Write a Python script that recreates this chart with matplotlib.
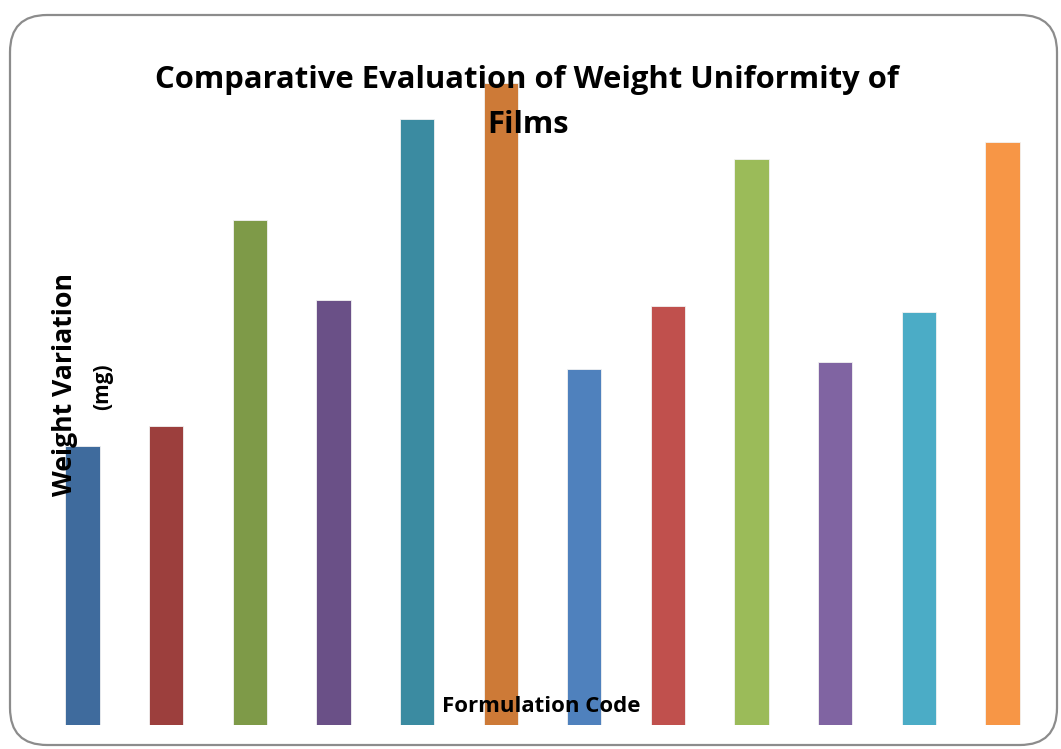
import matplotlib
matplotlib.use("Agg")
import matplotlib.pyplot as plt
from matplotlib.patches import FancyBboxPatch

# Weight variation per formulation (mg)
formulations = ["F1", "F2", "F3", "F4", "F5", "F6",
                "F7", "F8", "F9", "F10", "F11", "F12"]
weights = [27.9, 29.9, 50.5, 42.5, 60.6, 64.2,
           35.6, 41.9, 56.6, 36.3, 41.3, 58.3]
colors = ["#3F6B9D", "#9C3F3D", "#7E9A48", "#6A5087", "#3B8BA1", "#CD7A37",
          "#4F81BD", "#C0504D", "#9BBB59", "#8064A2", "#4BACC6", "#F79646"]

W, H = 1061, 749
fig = plt.figure(figsize=(W / 100, H / 100), dpi=100)

# rounded chart-area frame
frame = FancyBboxPatch((10 / W, 4 / H), (1047 / W), (730 / H),
                       boxstyle="round,pad=0,rounding_size=0.035",
                       transform=fig.transFigure, facecolor="none",
                       edgecolor="#8c8c8c", linewidth=1.6, zorder=0,
                       mutation_aspect=W / H)
fig.patches.append(frame)

ax = fig.add_axes([40.7 / W, 24 / H, (1044.3 - 40.7) / W, 700 / H])
ax.bar(range(len(weights)), weights, width=0.41, color=colors,
       edgecolor="#f2f2f2", linewidth=0.6)
ax.set_xlim(-0.5, len(weights) - 0.5)
ax.set_ylim(0, 70)
ax.axis("off")

font = "Open Sans"
fig.text(527 / W, 1 - 80 / H, "Comparative Evaluation of Weight Uniformity of",
         ha="center", va="center", fontsize=22.3, fontweight="bold",
         family=font, color="black")
fig.text(528 / W, 1 - 125 / H, "Films",
         ha="center", va="center", fontsize=22.3, fontweight="bold",
         family=font, color="black")
fig.text(65 / W, 1 - 385 / H, "Weight Variation",
         ha="center", va="center", rotation=90, fontsize=19.2,
         fontweight="bold", family=font, color="black")
fig.text(103 / W, 1 - 387 / H, "(mg)",
         ha="center", va="center", rotation=90, fontsize=15,
         fontweight="bold", family=font, color="black")
fig.text(541 / W, 1 - 707 / H, "Formulation Code",
         ha="center", va="center", fontsize=16, fontweight="bold",
         family=font, color="black")

fig.savefig("out.png", dpi=100)
